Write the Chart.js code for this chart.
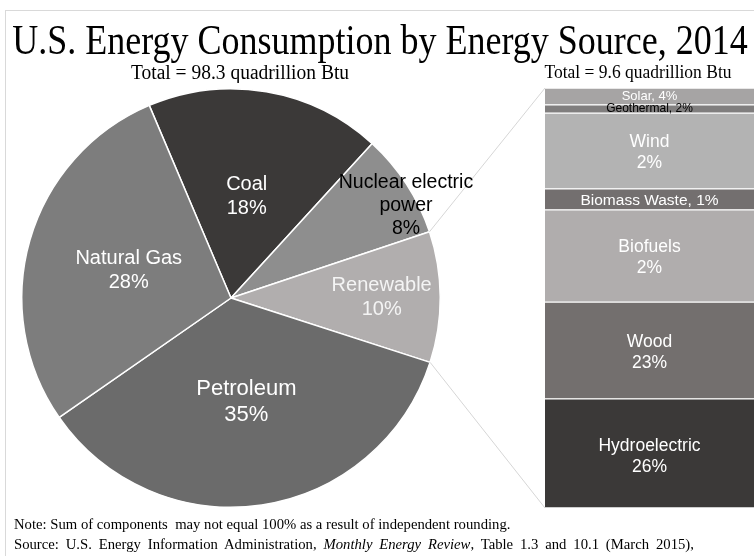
<!DOCTYPE html>
<html><head><meta charset="utf-8">
<script src="https://cdn.jsdelivr.net/npm/chart.js@4"></script>
<style>
html,body{margin:0;padding:0;background:#fff;width:754px;height:556px;overflow:hidden;}
#wrap{position:relative;width:754px;height:556px;}
.frame{position:absolute;left:5px;top:10px;width:760px;height:560px;border-top:1px solid #d9d9d9;border-left:1px solid #d9d9d9;}
.serif{position:absolute;font-family:"Liberation Serif","Times New Roman",serif;color:#000;white-space:nowrap;line-height:1;transform-origin:50% 0;}
#pieC{position:absolute;left:0;top:0;}
#barC{position:absolute;left:545px;top:88px;}
</style></head><body>
<div id="wrap">
<div class="frame"></div>
<canvas id="pieC" width="754" height="556"></canvas>
<canvas id="barC" width="209" height="420"></canvas>
<div class="serif" style="left:12px;width:736px;text-align:center;top:18px;font-size:36px;transform:scaleY(1.2);">U.S. Energy Consumption by Energy Source, 2014</div>
<div class="serif" style="left:90px;width:300px;text-align:center;top:62px;font-size:19.5px;transform:scaleY(1.05);">Total = 98.3 quadrillion Btu</div>
<div class="serif" style="left:538px;width:200px;text-align:center;top:63px;font-size:17.5px;transform:scaleY(1.05);">Total = 9.6 quadrillion Btu</div>
<div class="serif" style="left:14px;top:517px;font-size:14.7px;">Note: Sum of components&nbsp; may not equal 100% as a result of independent rounding.</div>
<div class="serif" style="left:14px;top:537px;font-size:14.7px;word-spacing:3.2px;">Source: U.S. Energy Information Administration, <i>Monthly Energy Review</i>, Table 1.3 and 10.1 (March 2015),</div>
</div>
<script>
// ---- data ----
const pieCategories = ['Coal', 'Nuclear electric power', 'Renewable', 'Petroleum', 'Natural Gas'];
const pieValues = [18, 8, 10, 35, 28];
const pieLabelLines = [['Coal', '18%'], ['Nuclear electric', 'power', '8%'], ['Renewable', '10%'], ['Petroleum', '35%'], ['Natural Gas', '28%']];

const renewCategories = ['Hydroelectric', 'Wood', 'Biofuels', 'Biomass Waste', 'Wind', 'Geothermal', 'Solar'];
const renewValues = [26, 23, 22, 5, 18, 2, 4];
const renewLabelLines = [['Hydroelectric', '26%'], ['Wood', '23%'], ['Biofuels', '2%'], ['Biomass Waste, 1%'], ['Wind', '2%'], ['Geothermal, 2%'], ['Solar, 4%']];

// ---- styles ----
const pieColors = ['#3b3938', '#8e8e8e', '#b1aeae', '#6b6b6b', '#7d7d7d'];
const pieTextColors = ['#ffffff', '#000000', '#f4f4f4', '#ffffff', '#ffffff'];
const pieFontSizes = [20, 19.5, 20, 22, 20];
const pieLabelRadius = [0.49, 0.945, 0.72, 0.5, 0.506];
const pieLabelAngleFrac = [0.486, 0.68, 0.5, 0.5, 0.49];

const barColors = ['#3b3938', '#736f6e', '#b0adad', '#736f6f', '#b3b3b3', '#807e7e', '#a6a4a4'];
const barTextColors = ['#ffffff', '#ffffff', '#ffffff', '#ffffff', '#ffffff', '#000000', '#ffffff'];
const barFontSizes = [17.5, 17.5, 17.5, 15.5, 17.5, 12, 13];
const barLabelShift = [3, 2, 2, 1, 2, 0, 0];

const SANS = '"Liberation Sans", Arial, sans-serif';

const barLabelPlugin = {
  id: 'barLabels',
  afterDatasetsDraw(chart) {
    const ctx = chart.ctx;
    ctx.save();
    ctx.textAlign = 'center';
    ctx.textBaseline = 'middle';
    chart.data.datasets.forEach((ds, i) => {
      const el = chart.getDatasetMeta(i).data[0];
      const cy = (el.y + el.base) / 2 + barLabelShift[i];
      const lines = renewLabelLines[i];
      const fs = barFontSizes[i];
      const lh = fs * 1.2;
      ctx.font = fs + 'px ' + SANS;
      ctx.fillStyle = barTextColors[i];
      lines.forEach((t, k) => {
        ctx.fillText(t, el.x, cy + (k - (lines.length - 1) / 2) * lh);
      });
    });
    ctx.restore();
  }
};

const barChart = new Chart(document.getElementById('barC'), {
  type: 'bar',
  data: {
    labels: ['Renewable'],
    datasets: renewCategories.map((c, i) => ({
      label: c,
      data: [renewValues[i]],
      backgroundColor: barColors[i],
      borderColor: '#ffffff',
      borderWidth: {top: 1, bottom: 1, left: 0, right: 0},
      borderSkipped: false,
      barPercentage: 1,
      categoryPercentage: 1
    }))
  },
  options: {
    responsive: false,
    animation: false,
    devicePixelRatio: 1,
    layout: {padding: 0},
    plugins: {legend: {display: false}, tooltip: {enabled: false}},
    scales: {
      x: {stacked: true, display: false},
      y: {stacked: true, display: false, min: 0, max: 100}
    }
  },
  plugins: [barLabelPlugin]
});

const pieExtras = {
  id: 'pieExtras',
  afterDatasetsDraw(chart) {
    const ctx = chart.ctx;
    const arcs = chart.getDatasetMeta(0).data;
    ctx.save();
    // connector lines from the Renewable slice to the stacked bar
    const ren = arcs[2];
    const bc = barChart.canvas;
    const topMeta = barChart.getDatasetMeta(renewValues.length - 1).data[0];
    const botMeta = barChart.getDatasetMeta(0).data[0];
    const bx = bc.offsetLeft + topMeta.x - topMeta.width / 2;
    const by1 = bc.offsetTop + topMeta.y;
    const by2 = bc.offsetTop + botMeta.base;
    ctx.strokeStyle = '#d6d6d6';
    ctx.lineWidth = 1;
    ctx.beginPath();
    ctx.moveTo(ren.x + Math.cos(ren.startAngle) * ren.outerRadius, ren.y + Math.sin(ren.startAngle) * ren.outerRadius);
    ctx.lineTo(bx, by1);
    ctx.moveTo(ren.x + Math.cos(ren.endAngle) * ren.outerRadius, ren.y + Math.sin(ren.endAngle) * ren.outerRadius);
    ctx.lineTo(bx, by2);
    ctx.stroke();
    // slice labels
    ctx.textAlign = 'center';
    ctx.textBaseline = 'middle';
    arcs.forEach((a, i) => {
      const ang = a.startAngle + (a.endAngle - a.startAngle) * pieLabelAngleFrac[i];
      const r = a.outerRadius * pieLabelRadius[i];
      const x = a.x + Math.cos(ang) * r;
      const y = a.y + Math.sin(ang) * r;
      const lines = pieLabelLines[i];
      const fs = pieFontSizes[i];
      const lh = fs * 1.18;
      ctx.font = fs + 'px ' + SANS;
      ctx.fillStyle = pieTextColors[i];
      lines.forEach((t, k) => ctx.fillText(t, x, y + (k - (lines.length - 1) / 2) * lh));
    });
    ctx.restore();
  }
};

new Chart(document.getElementById('pieC'), {
  type: 'pie',
  data: {
    labels: pieCategories,
    datasets: [{
      data: pieValues,
      backgroundColor: pieColors,
      borderColor: '#ffffff',
      borderWidth: 1.5
    }]
  },
  options: {
    responsive: false,
    animation: false,
    devicePixelRatio: 1,
    rotation: -23,
    layout: {padding: {top: 88, bottom: 48, left: 21, right: 313}},
    plugins: {legend: {display: false}, tooltip: {enabled: false}}
  },
  plugins: [pieExtras]
});
</script>
</body></html>
